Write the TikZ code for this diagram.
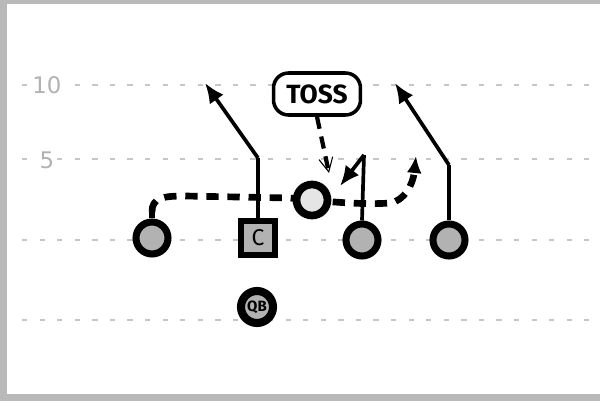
\documentclass[tikz,border=0pt]{standalone}
\usepackage{fontspec}
\setmainfont{DejaVu Sans}
\newfontfamily\callfont{Fira Sans}
\usetikzlibrary{arrows.meta}

\begin{document}
\begin{tikzpicture}[x=0.02cm, y=-0.02cm,
        yardline/.style={gray!45, line width=0.6pt, dash pattern=on 3pt off 7pt},
        yardnum/.style={fill=white, text=gray!60, font=\fontsize{13}{13}\selectfont, inner sep=1pt},
        player/.style={draw, circle, line width=4pt, fill=gray!60, minimum size=0.64cm, inner sep=0pt},
        route/.style={line width=2.1pt, -{Latex[length=0.4cm, width=0.34cm]}},
        motion/.style={line width=3.8pt, dash pattern=on 7pt off 5pt, -{Latex[length=0.34cm, width=0.3cm]}}]
    \useasboundingbox (0,0) rectangle (600,406);

    % field edges
    \fill[gray!55] (0,0) rectangle (7,401);
    \fill[gray!55] (0,0) rectangle (600,4);
    \fill[gray!55] (0,394) rectangle (600,401);

    % yard lines
    \draw[yardline] (22,85) -- (600,85);
    \draw[yardline] (22,159) -- (600,159);
    \draw[yardline] (22,240) -- (600,240);
    \draw[yardline] (22,320) -- (600,320);
    \node[yardnum] (ten) at (47,85) {10};
    \node[yardnum] (five) at (47,160) {5};

    % route corners and ends
    \coordinate (cbreak) at (258,158);
    \coordinate (cend) at (205,83);
    \coordinate (gbreak) at (364,155);
    \coordinate (gend) at (340,186);
    \coordinate (tbreak) at (449,165);
    \coordinate (tend) at (395,83);
    \coordinate (mstub) at (152,212);
    \coordinate (mend) at (416,156);

    % players
    \node[player] (wing) at (152,238) {};
    \node[draw, rectangle, line width=3.6pt, fill=gray!60, minimum size=0.68cm, inner sep=0pt,
          font=\callfont\fontsize{13}{13}\selectfont] (center) at (258,238) {C};
    \node[player, line width=4.6pt, font=\callfont\bfseries\fontsize{8.5}{8.5}\selectfont] (qb) at (257,307) {QB};
    \node[player] (guard) at (362,240) {};
    \node[player] (tackle) at (449,240) {};

    % motion behind the ball
    \draw[line width=3.4pt] (wing.north) -- (mstub);
    \draw[motion] (mstub) .. controls (152,198) and (162,196) .. (185,196)
        -- (290,198) .. controls (330,202) and (365,205) .. (390,203)
        .. controls (404,201) and (413,185) .. (mend);

    \node[draw, circle, line width=4.4pt, fill=gray!20, minimum size=0.62cm, inner sep=0pt] (ball) at (312,200) {};

    % routes
    \draw[line width=2.1pt] (center.north) -- (cbreak);
    \draw[route] (cbreak) -- (cend);
    \draw[line width=2.1pt] (guard.north) -- (gbreak);
    \draw[route] (gbreak) -- (gend);
    \draw[line width=2.1pt] (tackle.north) -- (tbreak);
    \draw[route] (tbreak) -- (tend);

    % toss call
    \node[draw, rounded corners=0.3cm, line width=2pt, fill=white, minimum width=1.74cm, minimum height=0.84cm,
          font=\callfont\bfseries\fontsize{15}{15}\selectfont] (toss) at (317,94) {TOSS};
    \draw[line width=2.4pt, dash pattern=on 7pt off 4.5pt, -{Straight Barb[length=0.28cm, width=0.28cm, line width=0.6pt]}]
        (toss.south) -- (329,173);
\end{tikzpicture}
\end{document}
